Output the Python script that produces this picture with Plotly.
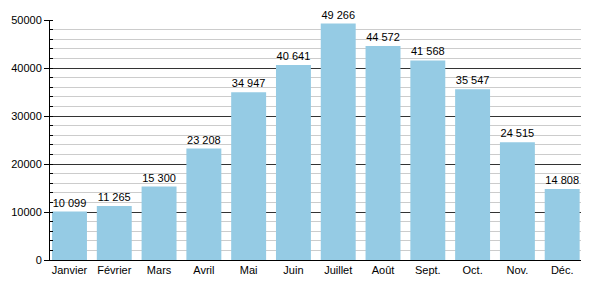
import plotly.graph_objects as go

months = ["Janvier", "Février", "Mars", "Avril", "Mai", "Juin", "Juillet", "Août", "Sept.", "Oct.", "Nov.", "Déc."]
values = [10099, 11265, 15300, 23208, 34947, 40641, 49266, 44572, 41568, 35547, 24515, 14808]
labels = [f"{v:,}".replace(",", " ") for v in values]
y_ticks = [0, 10000, 20000, 30000, 40000, 50000]

fig = go.Figure(go.Bar(
    x=months, y=values, text=labels, textposition="outside", cliponaxis=False,
    marker=dict(color="#95cbe4", line=dict(width=0)),
    textfont=dict(family="Liberation Sans, Arial", size=11, color="#000"),
))
fig.update_layout(
    width=600, height=300, margin=dict(l=50, r=19, t=20, b=40),
    plot_bgcolor="white", paper_bgcolor="white", bargap=0.22, showlegend=False,
    font=dict(family="Liberation Sans, Arial", size=11, color="#000"),
    uniformtext=dict(minsize=11, mode="show"),
)
fig.update_xaxes(range=[-0.435, 11.42], showline=True, linecolor="#000", linewidth=1,
                 ticks="", showgrid=False, tickfont=dict(size=11))
fig.update_yaxes(range=[0, 50000], tickvals=y_ticks, ticktext=[str(t) for t in y_ticks],
                 showline=True, linecolor="#000", linewidth=1,
                 ticks="outside", ticklen=5, tickcolor="#000",
                 showgrid=True, gridcolor="#333", gridwidth=1, zeroline=False,
                 minor=dict(dtick=2000, tick0=0, showgrid=True, gridcolor="#cccccc", gridwidth=1,
                            ticks="inside", ticklen=3, tickcolor="#000"),
                 tickfont=dict(size=11))
fig.write_html("out.html")
